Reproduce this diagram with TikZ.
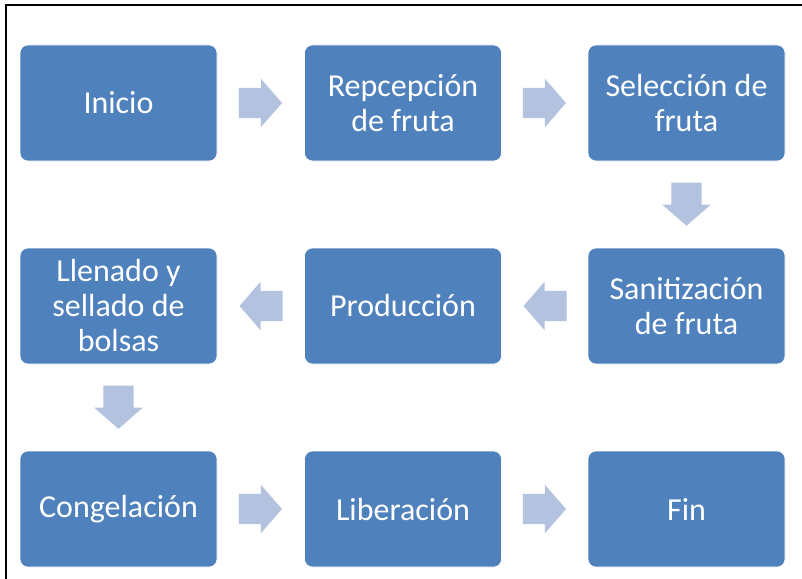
\documentclass[tikz,border=0pt]{standalone}
\usepackage{fontspec}
\setmainfont{Carlito}
\usetikzlibrary{shapes.arrows,calc}
\definecolor{cajaazul}{HTML}{4F81BD}
\definecolor{flechaazul}{HTML}{B3C2DE}
\tikzset{
  paso/.style={draw=white,line width=0.6pt,fill=cajaazul,rounded corners=8pt,
    minimum width=197pt,minimum height=116pt,text=white,align=center,
    font=\fontsize{32}{35}\selectfont},
  flecha/.style={single arrow,fill=flechaazul,draw=none,inner xsep=0pt,inner ysep=15pt,
    minimum height=43pt,single arrow head extend=9pt,
    single arrow tip angle=98,anchor=tip}
}
% punta de la flecha: 21.5pt pasado el punto medio entre dos cajas
\newcommand{\puntaentre}[2]{($($(#1)!0.5!(#2)$)!21.5pt!(#2)$)}
\begin{document}
\begin{tikzpicture}[x=1pt,y=-1pt]
\useasboundingbox (0,0) rectangle (802,578);
\draw[line width=2pt] (6,580) -- (6,5) -- (804,5);
% primera fila
\node[paso] (inicio) at (118.5,103) {Inicio};
\node[paso] (recep) at (403,103) {Repcepción\\de fruta};
\node[paso] (selec) at (686.5,103) {Selección de\\fruta};
% segunda fila
\node[paso] (sanit) at (686.5,306) {Sanitización\\de fruta};
\node[paso] (prod) at (403,306) {Producción};
\node[paso] (llenado) at (118.5,306) {Llenado y\\sellado de\\bolsas};
% tercera fila
\node[paso] (congel) at (118.5,509) {Congelación};
\node[paso] (liber) at (403,509) {Liberación};
\node[paso] (fin) at (686.5,509) {Fin};
% flechas
\node[flecha] (f1) at \puntaentre{inicio.east}{recep.west} {};
\node[flecha] (f2) at \puntaentre{recep.east}{selec.west} {};
\node[flecha,rotate=-90] (f3) at \puntaentre{selec.south}{sanit.north} {};
\node[flecha,rotate=180] (f4) at \puntaentre{sanit.west}{prod.east} {};
\node[flecha,rotate=180] (f5) at \puntaentre{prod.west}{llenado.east} {};
\node[flecha,rotate=-90] (f6) at \puntaentre{llenado.south}{congel.north} {};
\node[flecha] (f7) at \puntaentre{congel.east}{liber.west} {};
\node[flecha] (f8) at \puntaentre{liber.east}{fin.west} {};
\end{tikzpicture}
\end{document}
